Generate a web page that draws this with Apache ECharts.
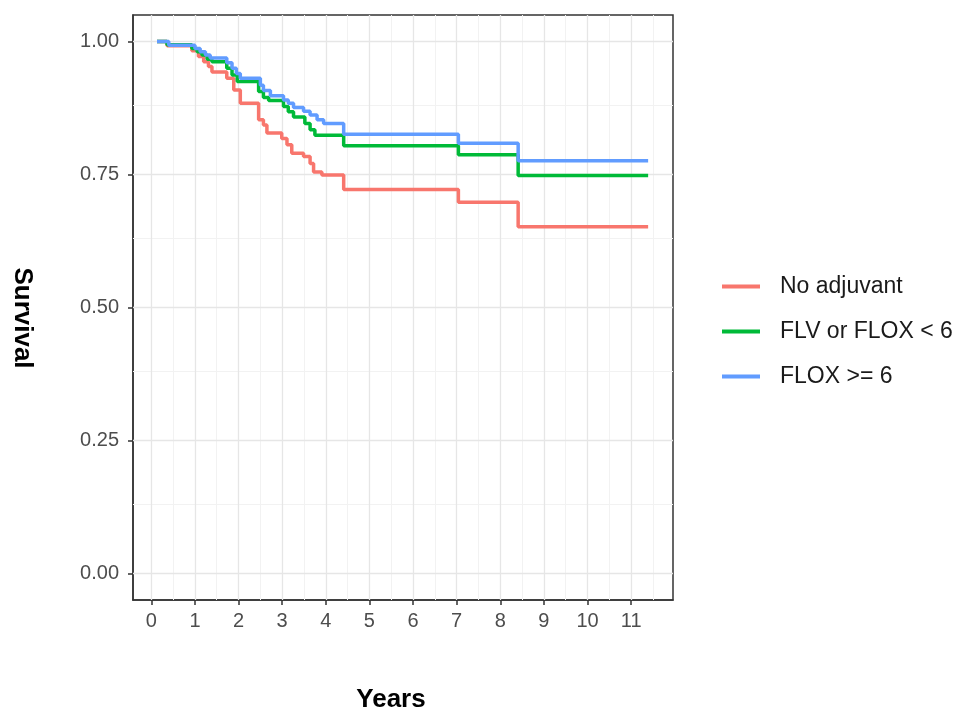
<!DOCTYPE html>
<html>
<head>
<meta charset="utf-8">
<script src="https://cdn.jsdelivr.net/npm/echarts@6/dist/echarts.min.js"></script>
<style>
  html, body { margin: 0; padding: 0; background: #fff; }
  #chart { width: 965px; height: 712px; }
</style>
</head>
<body>
<div id="chart"></div>
<script>
// Kaplan-Meier survival, three groups
var groupNames = ['No adjuvant', 'FLV or FLOX < 6', 'FLOX >= 6'];
var groupColors = ['#F8766D', '#00BA38', '#619CFF'];

var noAdjTime = [0.13, 0.36, 0.93, 1.08, 1.20, 1.31, 1.39, 1.73, 1.89, 2.04, 2.46, 2.57, 2.65, 2.99, 3.11, 3.22, 3.49, 3.64, 3.72, 3.91, 4.41, 7.04, 8.41, 11.39];
var noAdjSurv = [1.000, 0.992, 0.983, 0.972, 0.962, 0.953, 0.943, 0.931, 0.909, 0.884, 0.853, 0.843, 0.828, 0.818, 0.806, 0.790, 0.784, 0.771, 0.755, 0.749, 0.722, 0.698, 0.652, 0.652];

var flvTime = [0.13, 0.36, 0.93, 1.05, 1.16, 1.28, 1.39, 1.73, 1.85, 1.97, 2.46, 2.57, 2.69, 3.03, 3.14, 3.26, 3.52, 3.64, 3.75, 4.41, 7.04, 8.41, 11.39];
var flvSurv = [1.000, 0.994, 0.987, 0.981, 0.975, 0.967, 0.962, 0.950, 0.937, 0.925, 0.906, 0.895, 0.889, 0.878, 0.868, 0.858, 0.846, 0.834, 0.824, 0.804, 0.787, 0.748, 0.748];

var floxTime = [0.13, 0.40, 1.00, 1.12, 1.24, 1.35, 1.73, 1.85, 1.95, 2.04, 2.50, 2.57, 2.73, 3.03, 3.14, 3.26, 3.49, 3.64, 3.80, 3.95, 4.41, 7.04, 8.41, 11.39];
var floxSurv = [1.000, 0.993, 0.987, 0.981, 0.975, 0.969, 0.960, 0.950, 0.940, 0.931, 0.918, 0.908, 0.898, 0.890, 0.884, 0.876, 0.869, 0.862, 0.853, 0.846, 0.826, 0.809, 0.776, 0.776];

var xTicks = [0, 1, 2, 3, 4, 5, 6, 7, 8, 9, 10, 11];
var xMinorTicks = [0.5, 1.5, 2.5, 3.5, 4.5, 5.5, 6.5, 7.5, 8.5, 9.5, 10.5, 11.5];
var yTicks = [0, 0.25, 0.5, 0.75, 1];
var yMinorTicks = [0.125, 0.375, 0.625, 0.875];

function pairs(t, s) {
    var out = [];
    for (var i = 0; i < t.length; i++) out.push([t[i], s[i]]);
    return out;
}

function gridLines(axisKey, vals, color, width) {
    return vals.map(function (v) {
        var o = { lineStyle: { color: color, width: width, type: 'solid' } };
        o[axisKey] = v;
        return o;
    });
}

var chart = echarts.init(document.getElementById('chart'));
var font = 'Liberation Sans, Arial, sans-serif';

var lineSeries = [
    pairs(noAdjTime, noAdjSurv),
    pairs(flvTime, flvSurv),
    pairs(floxTime, floxSurv)
].map(function (d, i) {
    return {
        name: groupNames[i],
        type: 'line',
        step: 'end',
        data: d,
        showSymbol: false,
        symbol: 'none',
        lineStyle: { color: groupColors[i], width: 3.5 },
        itemStyle: { color: groupColors[i] },
        z: 3 + i
    };
});

// background grid drawn as mark lines through the axes
var gridSeries = {
    name: 'grid',
    type: 'line',
    data: [],
    silent: true,
    z: 1,
    markLine: {
        silent: true,
        z: 1,
        symbol: 'none',
        label: { show: false },
        animation: false,
        data: []
            .concat(gridLines('xAxis', xMinorTicks, '#F2F2F2', 1))
            .concat(gridLines('yAxis', yMinorTicks, '#F2F2F2', 1))
            .concat(gridLines('xAxis', xTicks, '#E6E6E6', 1.3))
            .concat(gridLines('yAxis', yTicks, '#E6E6E6', 1.3))
    }
};

var option = {
    animation: false,
    backgroundColor: '#ffffff',
    grid: {
        left: 133, right: 292, top: 15, bottom: 112,
        show: true, borderColor: '#333333', borderWidth: 1.5,
        backgroundColor: 'transparent'
    },
    legend: {
        data: groupNames,
        orient: 'vertical',
        left: 717,
        top: 270,
        itemWidth: 38,
        itemHeight: 4,
        itemGap: 22,
        icon: 'rect',
        textStyle: { fontFamily: font, fontSize: 23, color: '#1a1a1a', padding: [0, 0, 0, 15] }
    },
    xAxis: {
        type: 'value',
        min: -0.42,
        max: 11.96,
        axisLine: { show: true, onZero: false, lineStyle: { color: '#333333', width: 1.5 } },
        axisTick: { show: true, length: 5, customValues: xTicks, lineStyle: { color: '#333333', width: 1.5 } },
        axisLabel: {
            customValues: xTicks,
            fontFamily: font, fontSize: 20, color: '#4D4D4D', margin: 11,
            formatter: function (v) { return String(v); }
        },
        splitLine: { show: false }
    },
    yAxis: {
        type: 'value',
        min: -0.05,
        max: 1.05,
        axisLine: { show: true, onZero: false, lineStyle: { color: '#333333', width: 1.5 } },
        axisTick: { show: true, length: 5, customValues: yTicks, lineStyle: { color: '#333333', width: 1.5 } },
        axisLabel: {
            customValues: yTicks,
            fontFamily: font, fontSize: 20, color: '#4D4D4D', margin: 14,
            formatter: function (v) { return v.toFixed(2); }
        },
        splitLine: { show: false }
    },
    graphic: [
        {
            type: 'text', x: 22, y: 318, rotation: -Math.PI / 2,
            style: { text: 'Survival', fontFamily: font, fontSize: 26, fontWeight: 'bold', fill: '#000', align: 'center', verticalAlign: 'middle' }
        },
        {
            type: 'text', x: 391, y: 700,
            style: { text: 'Years', fontFamily: font, fontSize: 26, fontWeight: 'bold', fill: '#000', align: 'center', verticalAlign: 'middle' }
        }
    ],
    series: [gridSeries].concat(lineSeries)
};

chart.setOption(option);
window.addEventListener('resize', function () {
    chart.resize();
});
</script>
</body>
</html>
